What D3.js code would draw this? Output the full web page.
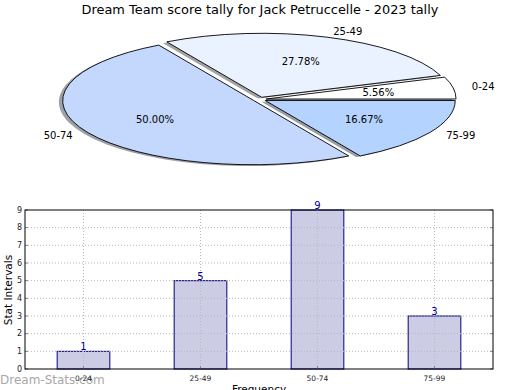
<!DOCTYPE html>
<html>
<head>
<meta charset="utf-8">
<style>
  body { margin: 0; background: #fff; }
  svg { display: block; font-family: "DejaVu Sans", sans-serif; }
  .grid line { stroke: #b8b8b8; stroke-dasharray: 1,2; stroke-width: 1; }
</style>
<script src="https://d3js.org/d3.v7.min.js"></script>
</head>
<body>
<script>
// chart data
const categories = ['0-24', '25-49', '50-74', '75-99'];
const counts = [1, 5, 9, 3];
const pieColors = ['#ffffff', '#eaf1ff', '#c4d8fe', '#b4d4ff'];
const yTicks = [0, 1, 2, 3, 4, 5, 6, 7, 8, 9];
const title = 'Dream Team score tally for Jack Petruccelle - 2023 tally';

const W = 520, H = 390;
const svg = d3.select('body').append('svg')
    .attr('width', W).attr('height', H);

svg.append('text')
    .attr('x', 260).attr('y', 14)
    .attr('text-anchor', 'middle')
    .style('font-size', '12.9px')
    .text(title);

// ---- pie (squashed to an ellipse like the original) ----
const cx = 259.5, cy = 99.4, rx = 190, ry = 64, explode = 0.035;
const total = d3.sum(counts);
const pie = d3.pie().sort(null)
    .startAngle(Math.PI / 2)
    .endAngle(Math.PI / 2 - 2 * Math.PI);
const arcs = pie(counts);
const arc = d3.arc().innerRadius(0).outerRadius(1);
const mid = d => (d.startAngle + d.endAngle) / 2;
const at = (d, k) => [cx + rx * k * Math.sin(mid(d)), cy - ry * k * Math.cos(mid(d))];

const pieG = svg.append('g');
// shadows first, all under the wedges
pieG.selectAll('path.shadow').data(arcs).enter().append('path')
    .attr('class', 'shadow')
    .attr('d', arc)
    .attr('transform', d => {
        const p = at(d, explode);
        return `translate(${p[0] - 0.02 * rx},${p[1] + 0.02 * ry}) scale(${rx},${ry})`;
    })
    .attr('fill', (d, i) => {
        const c = d3.rgb(pieColors[i]);
        return d3.rgb(c.r * 0.3, c.g * 0.3, c.b * 0.3);
    })
    .attr('fill-opacity', 0.5);

pieG.selectAll('path.wedge').data(arcs).enter().append('path')
    .attr('class', 'wedge')
    .attr('d', arc)
    .attr('transform', d => {
        const p = at(d, explode);
        return `translate(${p[0]},${p[1]}) scale(${rx},${ry})`;
    })
    .attr('fill', (d, i) => pieColors[i])
    .attr('stroke', '#000')
    .attr('stroke-width', 0.9)
    .attr('vector-effect', 'non-scaling-stroke');

pieG.selectAll('text.lab').data(arcs).enter().append('text')
    .attr('class', 'lab')
    .attr('x', d => at(d, 1.1 + explode)[0])
    .attr('y', d => at(d, 1.1 + explode)[1])
    .attr('dy', '0.35em')
    .attr('text-anchor', d => at(d, 1)[0] > cx ? 'start' : 'end')
    .style('font-size', '10px')
    .text((d, i) => categories[i]);

pieG.selectAll('text.pct').data(arcs).enter().append('text')
    .attr('class', 'pct')
    .attr('x', d => at(d, 0.6 + explode)[0])
    .attr('y', d => at(d, 0.6 + explode)[1])
    .attr('dy', '0.35em')
    .attr('text-anchor', 'middle')
    .style('font-size', '10px')
    .text(d => (100 * d.value / total).toFixed(2) + '%');

// ---- bar chart ----
const plotL = 25, plotR = 493, plotT = 210, plotB = 369;
const x = d3.scaleBand().domain(categories).range([plotL, plotR]).padding(0);
const y = d3.scaleLinear().domain([0, 9]).range([plotB, plotT]);
const barW = x.bandwidth() * 0.45;

// watermark sits under the tick labels, as in the original
svg.append('text')
    .attr('x', 0).attr('y', 384)
    .style('font-size', '12px')
    .attr('fill', '#a8a8a8')
    .text('Dream-Stats.com');

svg.append('g').selectAll('rect').data(counts).enter().append('rect')
    .attr('x', (d, i) => x(categories[i]) + x.bandwidth() / 2 - barW / 2)
    .attr('y', d => y(d))
    .attr('width', barW)
    .attr('height', d => plotB - y(d))
    .attr('fill', '#ccccE5')
    .attr('stroke', '#000080')
    .attr('stroke-width', 1);

const grid = svg.append('g').attr('class', 'grid');
grid.selectAll('line.h').data(yTicks.slice(1, -1)).enter().append('line')
    .attr('x1', plotL).attr('x2', plotR)
    .attr('y1', d => y(d)).attr('y2', d => y(d));
grid.selectAll('line.v').data(categories).enter().append('line')
    .attr('x1', d => x(d) + x.bandwidth() / 2).attr('x2', d => x(d) + x.bandwidth() / 2)
    .attr('y1', plotT).attr('y2', plotB);

// small inner ticks
const ticks = svg.append('g').attr('stroke', '#888').attr('stroke-width', 1);
ticks.selectAll('line.l').data(yTicks).enter().append('line')
    .attr('x1', plotL).attr('x2', plotL + 3)
    .attr('y1', d => y(d)).attr('y2', d => y(d));
ticks.selectAll('line.r').data(yTicks).enter().append('line')
    .attr('x1', plotR - 3).attr('x2', plotR)
    .attr('y1', d => y(d)).attr('y2', d => y(d));
ticks.selectAll('line.b').data(categories).enter().append('line')
    .attr('x1', d => x(d) + x.bandwidth() / 2).attr('x2', d => x(d) + x.bandwidth() / 2)
    .attr('y1', plotB).attr('y2', plotB - 3);

svg.append('rect')
    .attr('x', plotL).attr('y', plotT)
    .attr('width', plotR - plotL).attr('height', plotB - plotT)
    .attr('fill', 'none').attr('stroke', '#000').attr('stroke-width', 1);

svg.append('g').selectAll('text').data(yTicks).enter().append('text')
    .attr('x', 22).attr('y', d => y(d))
    .attr('dy', '0.35em')
    .attr('text-anchor', 'end')
    .style('font-size', '8px')
    .attr('fill', '#222')
    .text(d => d);

svg.append('g').selectAll('text').data(categories).enter().append('text')
    .attr('x', d => x(d) + x.bandwidth() / 2).attr('y', 378)
    .attr('dy', '0.35em')
    .attr('text-anchor', 'middle')
    .style('font-size', '7.5px')
    .attr('fill', '#222')
    .text(d => d);

svg.append('g').selectAll('text').data(counts).enter().append('text')
    .attr('x', (d, i) => x(categories[i]) + x.bandwidth() / 2)
    .attr('y', d => y(d) - 1)
    .attr('text-anchor', 'middle')
    .style('font-size', '10px')
    .attr('fill', '#000099')
    .text(d => d);

svg.append('text')
    .attr('transform', 'translate(12,290) rotate(-90)')
    .attr('text-anchor', 'middle')
    .style('font-size', '10.5px')
    .text('Stat Intervals');

svg.append('text')
    .attr('x', 259).attr('y', 393)
    .attr('text-anchor', 'middle')
    .style('font-size', '10.5px')
    .text('Frequency');
</script>
</body>
</html>
